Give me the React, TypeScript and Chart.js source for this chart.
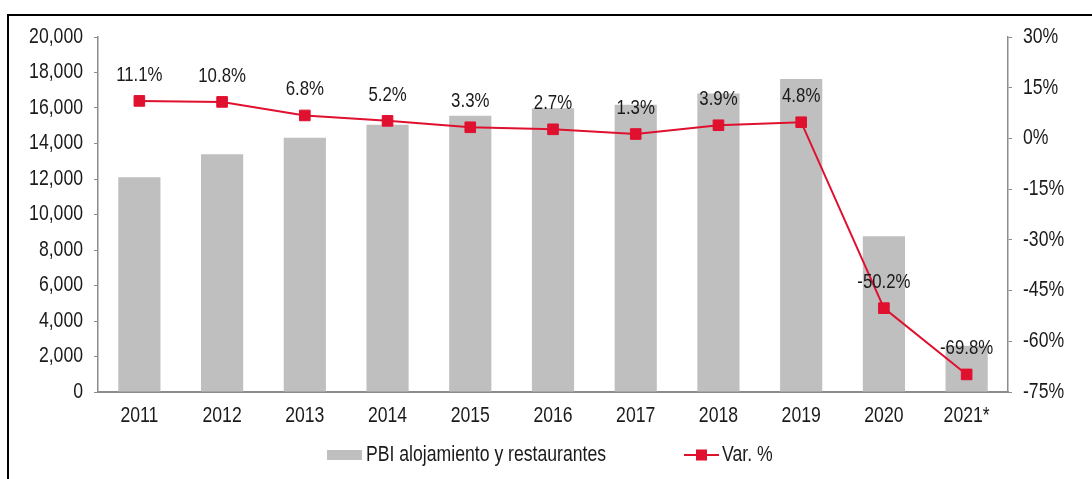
import React, { useEffect, useRef } from "react";
import { Chart, registerables } from "chart.js";

Chart.register(...registerables);

const categories = ["2011", "2012", "2013", "2014", "2015", "2016", "2017", "2018", "2019", "2020", "2021*"];
const pbiValues = [12100, 13400, 14320, 15060, 15560, 15980, 16190, 16820, 17630, 8780, 2600];
const varValues = [11.1, 10.8, 6.8, 5.2, 3.3, 2.7, 1.3, 3.9, 4.8, -50.2, -69.8];
const varLabels = ["11.1%", "10.8%", "6.8%", "5.2%", "3.3%", "2.7%", "1.3%", "3.9%", "4.8%", "-50.2%", "-69.8%"];

const FAMILY = "'Liberation Sans', Arial, sans-serif";
const NARROW = 0.82;
const BAR = "#bfbfbf";
const RED = "#e0102f";
const TEXT = "#1a1a1a";
const AXIS = "#8c8c8c";

function narrowText(ctx: CanvasRenderingContext2D, text: string, x: number, y: number, size: number, align: CanvasTextAlign) {
  ctx.save();
  ctx.font = `${size}px ${FAMILY}`;
  ctx.fillStyle = TEXT;
  ctx.textAlign = align;
  ctx.textBaseline = "middle";
  ctx.translate(x, y);
  ctx.scale(NARROW, 1);
  ctx.fillText(text, 0, 0);
  ctx.restore();
}

const textPlugin = {
  id: "narrowTexts",
  afterDraw(chart: any) {
    const ctx = chart.ctx as CanvasRenderingContext2D;
    const { x, y, y1 } = chart.scales;
    x.ticks.forEach((t: any, i: number) => {
      narrowText(ctx, String(t.label), x.getPixelForTick(i), x.top + 24, 21.5, "center");
    });
    y.ticks.forEach((t: any, i: number) => {
      narrowText(ctx, String(t.label), y.right - 15, y.getPixelForTick(i), 21.5, "right");
    });
    y1.ticks.forEach((t: any, i: number) => {
      narrowText(ctx, String(t.label), y1.left + 15, y1.getPixelForTick(i), 21.5, "left");
    });
    const meta = chart.getDatasetMeta(1);
    meta.data.forEach((pt: any, i: number) => {
      narrowText(ctx, varLabels[i], pt.x, pt.y - 26, 20.5, "center");
    });
    const ly = 455;
    ctx.save();
    ctx.fillStyle = BAR;
    ctx.fillRect(327, ly - 5, 35, 10);
    ctx.restore();
    narrowText(ctx, chart.data.datasets[0].label, 366, ly, 21.5, "left");
    ctx.save();
    ctx.strokeStyle = RED;
    ctx.lineWidth = 2;
    ctx.beginPath();
    ctx.moveTo(684, ly);
    ctx.lineTo(719, ly);
    ctx.stroke();
    ctx.fillStyle = RED;
    ctx.fillRect(696, ly - 5.5, 11, 11);
    ctx.restore();
    narrowText(ctx, chart.data.datasets[1].label, 722, ly, 21.5, "left");
  },
};

export default function App() {
  const ref = useRef<HTMLCanvasElement>(null);
  useEffect(() => {
    if (!ref.current) return;
    const hidden = "rgba(0,0,0,0)";
    const chart = new Chart(ref.current, {
      type: "bar",
      data: {
        labels: categories,
        datasets: [
          {
            type: "bar",
            label: "PBI alojamiento y restaurantes",
            data: pbiValues,
            backgroundColor: BAR,
            barPercentage: 0.51,
            categoryPercentage: 1,
            yAxisID: "y",
            order: 2,
          },
          {
            type: "line",
            label: "Var. %",
            data: varValues,
            borderColor: RED,
            backgroundColor: RED,
            borderWidth: 2,
            pointStyle: "rect",
            pointRadius: 7.5,
            pointBorderWidth: 1,
            pointBorderColor: RED,
            pointBackgroundColor: RED,
            yAxisID: "y1",
            order: 1,
          },
        ],
      } as any,
      options: {
        animation: false,
        responsive: false,
        maintainAspectRatio: false,
        layout: { padding: { top: 37, left: 0, right: 0, bottom: 0 } },
        plugins: {
          legend: { display: false },
          tooltip: { enabled: false },
        },
        scales: {
          x: {
            grid: { display: false, drawTicks: false },
            border: { display: true, color: AXIS, width: 2 },
            ticks: { font: { family: FAMILY, size: 20 }, color: hidden, padding: 11 },
            afterFit(scale: any) {
              scale.height = 87;
            },
          },
          y: {
            position: "left",
            min: 0,
            max: 20000,
            grid: { drawOnChartArea: false, drawTicks: true, tickLength: 4, color: AXIS },
            border: { display: true, color: AXIS, width: 1.5 },
            ticks: {
              stepSize: 2000,
              font: { family: FAMILY, size: 20 },
              color: hidden,
              padding: 11,
              callback: (v: any) => Number(v).toLocaleString("en-US"),
            },
            afterFit(scale: any) {
              scale.width = 98;
            },
          },
          y1: {
            position: "right",
            min: -75,
            max: 30,
            grid: { drawOnChartArea: false, drawTicks: true, tickLength: 4, color: AXIS },
            border: { display: true, color: AXIS, width: 1.5 },
            ticks: {
              stepSize: 15,
              font: { family: FAMILY, size: 20 },
              color: hidden,
              padding: 11,
              callback: (v: any) => `${v}%`,
            },
            afterFit(scale: any) {
              scale.width = 84;
            },
          },
        },
      } as any,
      plugins: [textPlugin],
    });
    return () => chart.destroy();
  }, []);

  return (
    <div style={{ position: "fixed", left: 0, top: 0, width: 1092, height: 479, background: "#fff", overflow: "hidden" }}>
      <canvas ref={ref} width={1092} height={479} style={{ position: "absolute", left: 0, top: 0, width: 1092, height: 479 }} />
      <div
        style={{
          position: "absolute",
          left: 7,
          top: 14,
          width: 1200,
          height: 600,
          borderTop: "2px solid #000",
          borderLeft: "2px solid #000",
          pointerEvents: "none",
        }}
      />
    </div>
  );
}
